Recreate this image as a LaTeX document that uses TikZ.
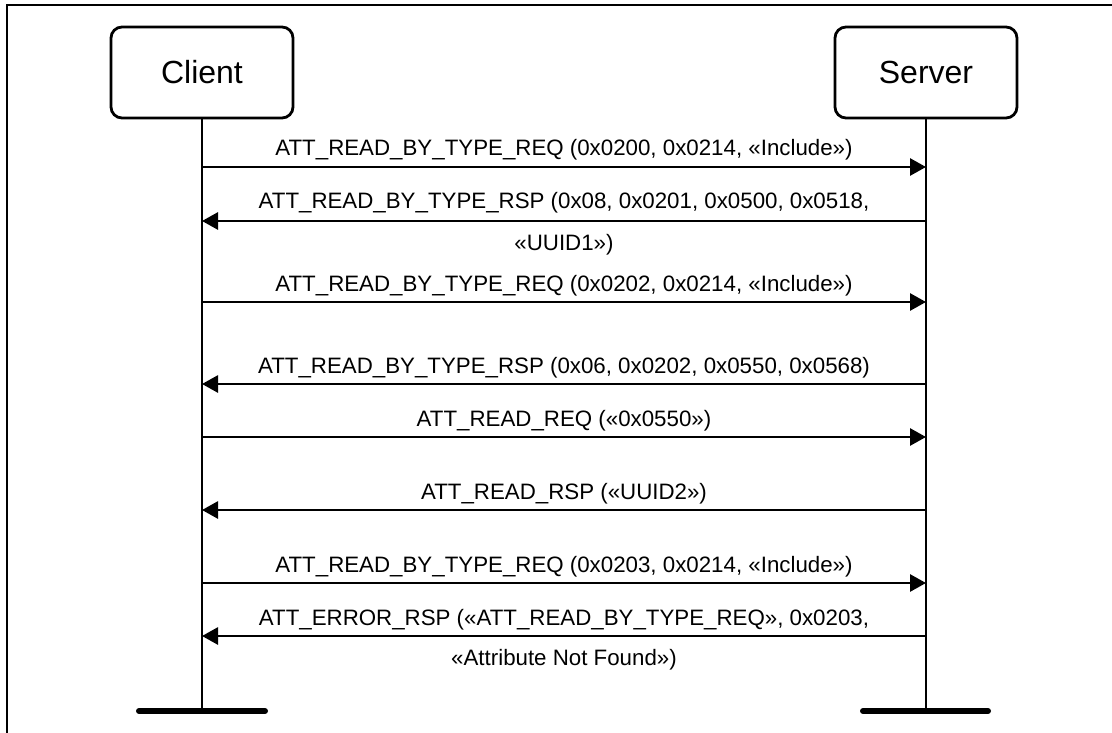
\documentclass[tikz,border=0pt]{standalone}
\usepackage{fontspec}
\setmainfont{Liberation Sans}
\usetikzlibrary{arrows.meta}
\begin{document}
\begin{tikzpicture}[x=1pt,y=-1pt,
  actor/.style={draw,line width=2.8pt,rounded corners=11pt,minimum width=182pt,minimum height=91pt,inner sep=0pt,font=\fontsize{32}{38}\selectfont},
  life/.style={line width=2.8pt},
  bar/.style={line width=6pt,line cap=round},
  msg/.style={line width=2.8pt,-{Triangle[length=16pt,width=17pt]}},
  lbl/.style={anchor=base,inner sep=0pt,font=\fontsize{22.3}{26}\selectfont}]
\useasboundingbox (0,0) rectangle (1112,733);
\draw[line width=2.2pt] (7,740) -- (7,5) -- (1120,5);
\node[actor] (client) at (202,72.5) {Client};
\node[actor] (server) at (926,72.5) {Server};
\coordinate (cb) at (202,711);
\coordinate (sb) at (926,711);
\coordinate (cbl) at (139,711);
\coordinate (cbr) at (265,711);
\coordinate (sbl) at (863,711);
\coordinate (sbr) at (988,711);
\draw[life] (client.south) -- (cb);
\draw[life] (server.south) -- (sb);
\draw[bar] (cbl) -- (cbr);
\draw[bar] (sbl) -- (sbr);
\foreach \i/\y in {1/167,2/221,3/302,4/384,5/437,6/510,7/583,8/636}{
  \coordinate (c\i) at (202,\y);
  \coordinate (s\i) at (926,\y);
}
\draw[msg] (c1) -- (s1);
\draw[msg] (s2) -- (c2);
\draw[msg] (c3) -- (s3);
\draw[msg] (s4) -- (c4);
\draw[msg] (c5) -- (s5);
\draw[msg] (s6) -- (c6);
\draw[msg] (c7) -- (s7);
\draw[msg] (s8) -- (c8);
\node[lbl] (l1) at (564,156) {ATT\_READ\_BY\_TYPE\_REQ (0x0200, 0x0214, «Include»)};
\node[lbl] (l2a) at (564,209) {ATT\_READ\_BY\_TYPE\_RSP (0x08, 0x0201, 0x0500, 0x0518,};
\node[lbl] (l2b) at (564,251) {«UUID1»)};
\node[lbl] (l3) at (564,291) {ATT\_READ\_BY\_TYPE\_REQ (0x0202, 0x0214, «Include»)};
\node[lbl] (l4) at (564,373) {ATT\_READ\_BY\_TYPE\_RSP (0x06, 0x0202, 0x0550, 0x0568)};
\node[lbl] (l5) at (564,426) {ATT\_READ\_REQ («0x0550»)};
\node[lbl] (l6) at (564,499) {ATT\_READ\_RSP («UUID2»)};
\node[lbl] (l7) at (564,572) {ATT\_READ\_BY\_TYPE\_REQ (0x0203, 0x0214, «Include»)};
\node[lbl] (l8a) at (564,625) {ATT\_ERROR\_RSP («ATT\_READ\_BY\_TYPE\_REQ», 0x0203,};
\node[lbl] (l8b) at (564,665) {«Attribute Not Found»)};
\end{tikzpicture}
\end{document}
